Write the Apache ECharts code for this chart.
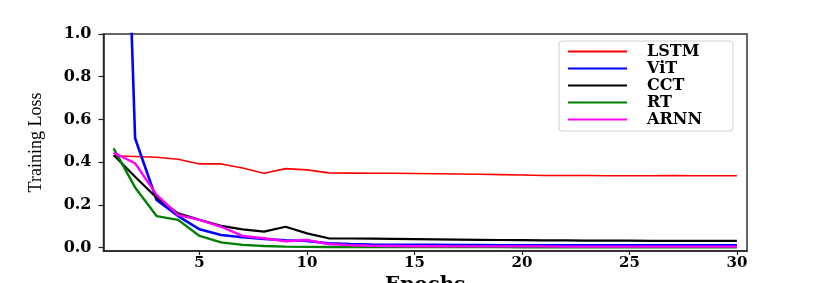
<!DOCTYPE html>
<html>
<head>
<meta charset="utf-8">
<script src="https://cdn.jsdelivr.net/npm/echarts@6/dist/echarts.min.js"></script>
<style>html,body{margin:0;padding:0;background:#fff;}#c{width:830px;height:283px;}</style>
</head>
<body>
<div id="c"></div>
<script>
const epochs = Array.from({length: 30}, (_, i) => i + 1);
const seriesNames = ['LSTM', 'ViT', 'CCT', 'RT', 'ARNN'];
const lstm = [0.430, 0.427, 0.423, 0.414, 0.392, 0.392, 0.373, 0.348, 0.370, 0.364, 0.350, 0.349, 0.348, 0.348, 0.347, 0.346, 0.345, 0.344, 0.342, 0.340, 0.338, 0.338, 0.338, 0.337, 0.337, 0.337, 0.338, 0.337, 0.337, 0.337];
const vit = [3.6, 0.512, 0.223, 0.148, 0.086, 0.059, 0.049, 0.041, 0.035, 0.031, 0.020, 0.017, 0.015, 0.014, 0.013, 0.013, 0.012, 0.012, 0.011, 0.011, 0.011, 0.011, 0.011, 0.011, 0.011, 0.011, 0.011, 0.011, 0.011, 0.011];
const cct = [0.434, 0.332, 0.234, 0.161, 0.130, 0.102, 0.086, 0.075, 0.098, 0.067, 0.044, 0.043, 0.042, 0.041, 0.040, 0.039, 0.038, 0.037, 0.036, 0.035, 0.034, 0.034, 0.033, 0.033, 0.033, 0.032, 0.032, 0.032, 0.032, 0.032];
const rt = [0.465, 0.282, 0.148, 0.130, 0.055, 0.025, 0.013, 0.008, 0.005, 0.004, 0.003, 0.003, 0.003, 0.003, 0.003, 0.003, 0.003, 0.003, 0.003, 0.002, 0.002, 0.002, 0.002, 0.002, 0.002, 0.002, 0.002, 0.002, 0.002, 0.002];
const arnn = [0.445, 0.395, 0.247, 0.153, 0.130, 0.098, 0.055, 0.044, 0.030, 0.036, 0.017, 0.012, 0.009, 0.008, 0.007, 0.007, 0.006, 0.006, 0.006, 0.006, 0.006, 0.005, 0.005, 0.005, 0.005, 0.005, 0.005, 0.005, 0.005, 0.005];
const xTicks = [5, 10, 15, 20, 25, 30];
const yTicks = [0, 0.2, 0.4, 0.6, 0.8, 1.0];

const colors = ['#ff0000', '#0000ff', '#000000', '#008000', '#ff00ff'];
const widths = [1.6, 2.6, 2.2, 2.4, 2.4];
const values = [lstm, vit, cct, rt, arnn];
const FONT = 'DejaVu Serif';

const chart = echarts.init(document.getElementById('c'), null, {renderer: 'canvas'});
chart.setOption({
  animation: false,
  backgroundColor: '#fff',
  grid: {left: 103.5, right: 83, top: 34, bottom: 32, outerBoundsMode: 'none', containLabel: false, show: true, borderColor: '#333', borderWidth: 1.5, backgroundColor: 'transparent'},
  legend: {
    data: seriesNames,
    right: 97, top: 41,
    orient: 'vertical',
    backgroundColor: '#fff',
    borderColor: '#d0d0d0', borderWidth: 1, borderRadius: 3,
    padding: [2, 31, 3, 9],
    itemWidth: 59, itemHeight: 2, itemGap: 0,
    icon: 'rect',
    textStyle: {fontFamily: FONT, fontSize: 16, fontWeight: 'bold', color: '#000', lineHeight: 17, padding: [0, 0, 0, 15]}
  },
  xAxis: {
    type: 'value', min: 0.53, max: 30.47,
    name: 'Epochs', nameLocation: 'middle', nameGap: 16,
    nameTextStyle: {fontFamily: FONT, fontSize: 20, fontWeight: 'bold', color: '#000', verticalAlign: 'top'},
    axisLine: {show: true, onZero: false, lineStyle: {color: '#222', width: 1.5}},
    axisTick: {show: true, length: 4, customValues: xTicks, lineStyle: {color: '#222', width: 1.2}},
    axisLabel: {customValues: xTicks, margin: 5, fontFamily: FONT, fontSize: 15, fontWeight: 'bold', color: '#000'},
    splitLine: {show: false}
  },
  yAxis: {
    type: 'value', min: -0.0155, max: 1.0,
    name: 'Training Loss', nameLocation: 'middle', nameGap: 58, nameRotate: 90,
    nameTextStyle: {fontFamily: 'Liberation Serif', fontSize: 18, color: '#000'},
    axisLine: {show: true, onZero: false, lineStyle: {color: '#222', width: 1.5}},
    axisTick: {show: true, length: 5, customValues: yTicks, lineStyle: {color: '#222', width: 1.2}},
    axisLabel: {customValues: yTicks, margin: 12, fontFamily: FONT, fontSize: 16, fontWeight: 'bold', color: '#000', formatter: v => v.toFixed(1)},
    splitLine: {show: false}
  },
  series: seriesNames.map((n, i) => ({
    name: n, type: 'line', showSymbol: false, symbol: 'none', clip: true,
    data: epochs.map((e, j) => [e, values[i][j]]),
    lineStyle: {color: colors[i], width: widths[i]},
    itemStyle: {color: colors[i]},
    z: 2 + i
  }))
});
</script>
</body>
</html>
